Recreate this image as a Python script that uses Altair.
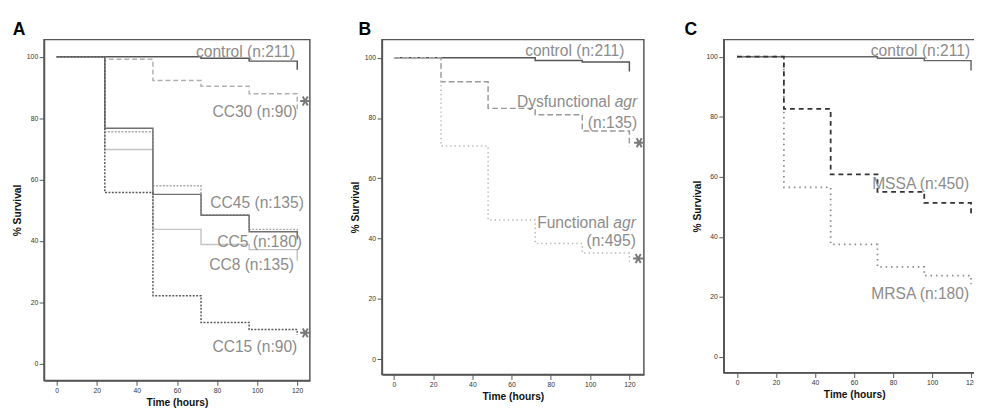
import altair as alt
import pandas as pd

# ---------------- data ----------------
times = [0, 24, 48, 72, 96, 120]

# Panel A
a_control = [100, 100, 100, 99.5, 98.6, 95.8]
a_cc30 = [100, 99.2, 92.3, 90.4, 88.0, 82.0]
a_cc45 = [100, 76.7, 55.2, 48.4, 43.0, 40.5]
a_cc5 = [100, 75.6, 58.0, 48.6, 43.8, 41.5]
a_cc8 = [100, 69.8, 43.8, 38.9, 37.2, 33.6]
a_cc15 = [100, 55.8, 22.2, 13.5, 11.2, 9.5]

a_label_text = ["control (n:211)", "CC30 (n:90)", "CC45 (n:135)", "CC5 (n:180)", "CC8 (n:135)", "CC15 (n:90)"]
a_label_t = [119.0, 120.0, 123.3, 122.4, 118.4, 120.0]
a_label_s = [101.5, 82.1, 52.3, 39.7, 32.0, 5.5]
a_star_t = [124.0, 124.0]
a_star_s = [85.6, 10.1]

# Panel B
b_control = [100, 100, 100, 99.1, 98.6, 95.4]
b_dys = [100, 92.0, 83.2, 81.1, 75.7, 70.5]
b_fun = [100, 70.7, 46.2, 38.4, 35.2, 32.3]

b_label_text = ["control (n:211)", "(n:135)", "(n:495)"]
b_label_t = [117.5, 124.0, 123.3]
b_label_s = [102.2, 78.3, 39.0]
b_name_text = ["Dysfunctional", "Functional"]
b_ital_text = ["agr", "agr"]
b_name_t = [124.0, 123.3]
b_name_s = [85.4, 45.1]
b_star_t = [125.0, 124.5]
b_star_s = [71.8, 33.4]

# Panel C
c_control = [100, 100, 100, 99.5, 98.7, 95.4]
c_mssa = [100, 82.6, 60.8, 55.0, 51.3, 47.5]
c_mrsa = [100, 56.5, 37.5, 30.0, 27.1, 24.2]

c_label_text = ["control (n:211)", "MSSA (n:450)", "MRSA (n:180)"]
c_label_t = [119.5, 119.0, 119.0]
c_label_s = [102.0, 57.7, 21.1]

x_ticks = [0, 20, 40, 60, 80, 100, 120]
y_ticks = [0, 20, 40, 60, 80, 100]

# ---------------- styling ----------------
FONT = "Liberation Sans"
TXT = "#8c8c8c"
STAR = "M-1,0L1,0M-0.5,-0.866L0.5,0.866M-0.5,0.866L0.5,-0.866"

xaxis = alt.Axis(values=x_ticks, title="Time (hours)", grid=False)
yaxis = alt.Axis(values=y_ticks, title="% Survival", grid=False)


def curve(values, color, dash, xs, ys, width=1.5):
    df = pd.DataFrame({"t": times, "s": values})
    kw = dict(interpolate="step-after", color=color, strokeWidth=width)
    if dash:
        kw["strokeDash"] = dash
    return alt.Chart(df).mark_line(**kw).encode(
        x=alt.X("t:Q", scale=xs, axis=xaxis),
        y=alt.Y("s:Q", scale=ys, axis=yaxis),
    )


def labels(texts, ts, ss, xs, ys, **kw):
    df = pd.DataFrame({"t": ts, "s": ss, "lab": texts})
    return alt.Chart(df).mark_text(
        align="right", baseline="middle", fontSize=16, font=FONT, color=TXT, **kw
    ).encode(
        x=alt.X("t:Q", scale=xs, axis=xaxis),
        y=alt.Y("s:Q", scale=ys, axis=yaxis),
        text="lab:N",
    )


def stars(ts, ss, xs, ys):
    df = pd.DataFrame({"t": ts, "s": ss})
    return alt.Chart(df).mark_point(
        shape=STAR, size=110, filled=False, stroke="#7a7a7a", strokeWidth=2, opacity=1
    ).encode(
        x=alt.X("t:Q", scale=xs, axis=xaxis),
        y=alt.Y("s:Q", scale=ys, axis=yaxis),
    )


def title(letter, dx):
    return alt.TitleParams(letter, anchor="start", fontSize=18, fontWeight="bold",
                           font=FONT, color="#000000", dx=dx, offset=1)


# Panel A
xa = alt.Scale(domain=[-6.32, 126.3], nice=False, zero=False)
ya = alt.Scale(domain=[-5.4, 105.6], nice=False, zero=False)
panel_a = alt.layer(
    curve(a_control, "#555555", None, xa, ya),
    curve(a_cc30, "#b0b0b0", [5, 3], xa, ya),
    curve(a_cc5, "#a8a8a8", [2, 1.5], xa, ya),
    curve(a_cc8, "#c4c4c4", None, xa, ya),
    curve(a_cc45, "#707070", None, xa, ya),
    curve(a_cc15, "#5a5a5a", [2, 1.5], xa, ya),
    labels(a_label_text, a_label_t, a_label_s, xa, ya),
    stars(a_star_t, a_star_s, xa, ya),
).properties(width=273, height=350, title=title("A", 0))

# Panel B
xb = alt.Scale(domain=[-6.1, 127.4], nice=False, zero=False)
yb = alt.Scale(domain=[-5.1, 106.0], nice=False, zero=False)
panel_b = alt.layer(
    curve(b_control, "#555555", None, xb, yb),
    curve(b_dys, "#999999", [6, 3], xb, yb),
    curve(b_fun, "#bbbbbb", [1.5, 3], xb, yb),
    labels(b_label_text, b_label_t, b_label_s, xb, yb),
    labels(b_name_text, b_name_t, b_name_s, xb, yb, dx=-27.5),
    labels(b_ital_text, b_name_t, b_name_s, xb, yb, fontStyle="italic"),
    stars(b_star_t, b_star_s, xb, yb),
).properties(width=269, height=344, title=title("B", 8))

# Panel C
xc = alt.Scale(domain=[-6.84, 127.0], nice=False, zero=False)
yc = alt.Scale(domain=[-5.2, 105.7], nice=False, zero=False)
panel_c = alt.layer(
    curve(c_control, "#666666", None, xc, yc),
    curve(c_mrsa, "#888888", [1.5, 4], xc, yc, 1.8),
    curve(c_mssa, "#333333", [5, 4], xc, yc, 1.8),
    labels(c_label_text, c_label_t, c_label_s, xc, yc),
).properties(width=268, height=342, title=title("C", -8))

chart = alt.hconcat(panel_a, panel_b, panel_c, spacing=35).properties(
    padding={"left": 4, "top": 7, "right": -12, "bottom": 0},
).configure_view(
    stroke="#555555", strokeWidth=1.5
).configure_axis(
    domainColor="#555555", domainWidth=1.5, tickColor="#555555", tickSize=5,
    labelColor="#333333", labelFontSize=7, labelFont=FONT, labelPadding=1.5,
    titleFont=FONT, titleFontWeight="bold", titleFontSize=10.5, titleColor="#111111",
    titlePadding=4,
).configure_title(anchor="start")

chart.save("out.html", embed_options={"renderer": "svg", "actions": False})
